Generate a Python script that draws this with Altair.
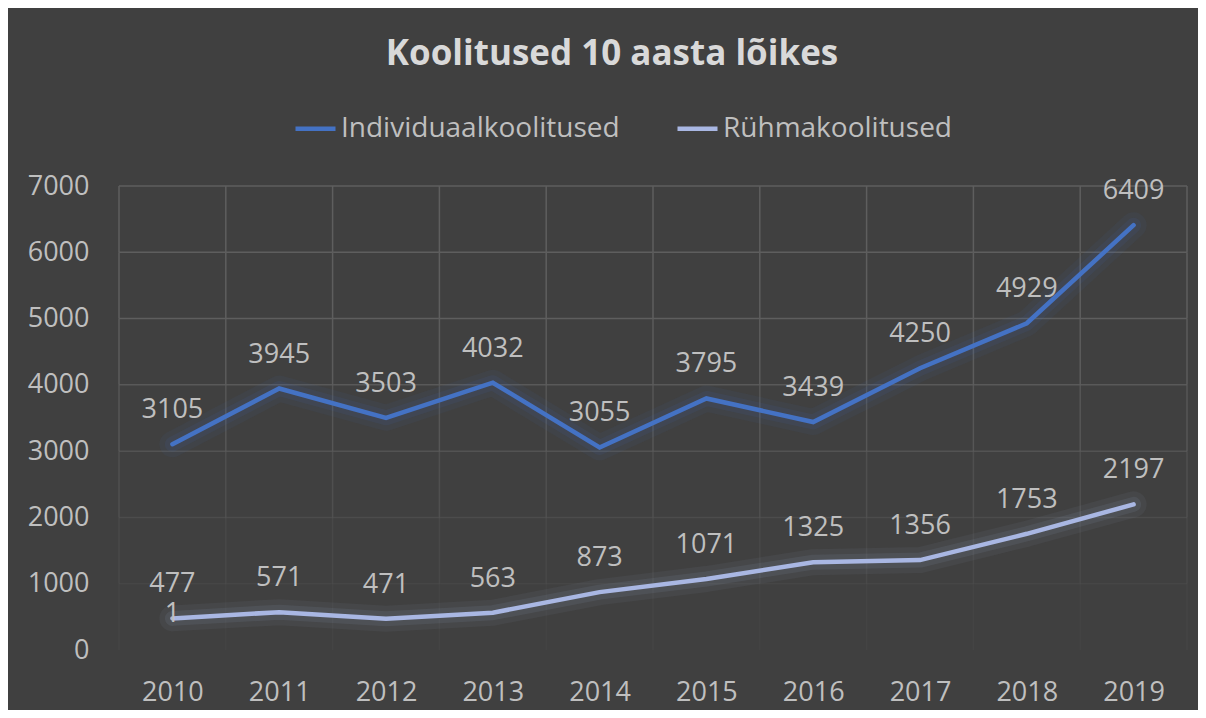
import altair as alt
import pandas as pd

FONT = "Open Sans"

years = [2010, 2011, 2012, 2013, 2014, 2015, 2016, 2017, 2018, 2019]
individuaal = [3105, 3945, 3503, 4032, 3055, 3795, 3439, 4250, 4929, 6409]
ryhma = [477, 571, 471, 563, 873, 1071, 1325, 1356, 1753, 2197]
series_names = ["Individuaalkoolitused", "Rühmakoolitused"]
series_colors = ["#4472c4", "#a9b7e3"]
y_ticks = [0, 1000, 2000, 3000, 4000, 5000, 6000, 7000]
grid_fade = [0.05, 0.2, 0.4, 0.65, 0.85, 1.0, 1.0, 1.0]
title_text = "Koolitused 10 aasta lõikes"

LABEL_COLOR = "#bfbfbf"
GRID_COLOR = "#5e5e5e"

rows = []
for yr, a, b in zip(years, individuaal, ryhma):
    rows.append({"year": yr, "series": series_names[0], "value": a})
    rows.append({"year": yr, "series": series_names[1], "value": b})
df = pd.DataFrame(rows)

x_lo, x_hi = years[0] - 0.5, years[-1] + 0.5

hgrid = pd.DataFrame({"v": y_ticks, "op": grid_fade, "x0": x_lo, "x1": x_hi})
vrows = []
bounds = [yr - 0.5 for yr in years] + [x_hi]
for bx in bounds:
    for k in range(len(y_ticks) - 1):
        vrows.append({"bx": bx, "y0": y_ticks[k], "y1": y_ticks[k + 1],
                      "op": (grid_fade[k] + grid_fade[k + 1]) / 2})
vgrid = pd.DataFrame(vrows)

xscale = alt.Scale(domain=[x_lo, x_hi], nice=False, zero=False)
yscale = alt.Scale(domain=[0, 7000], nice=False)

legend = alt.Legend(
    title=None, orient="none", direction="horizontal", columns=2,
    legendX=174, legendY=-80,
    symbolType="stroke", symbolSize=1600, symbolStrokeWidth=4.5, symbolOpacity=1,
    labelFont=FONT, labelFontSize=28, labelColor=LABEL_COLOR,
    labelOffset=3, columnPadding=48, labelLimit=400,
)
color = alt.Color("series:N", scale=alt.Scale(domain=series_names, range=series_colors), legend=legend)

x_enc = alt.X("year:Q", scale=xscale, axis=alt.Axis(
    values=years, format="d", title=None, grid=False, domain=False, ticks=False, tickSize=0,
    labelFont=FONT, labelFontSize=27, labelColor=LABEL_COLOR, labelPadding=29,
    labelBaseline="top"))
y_enc = alt.Y("value:Q", scale=yscale, axis=alt.Axis(
    values=y_ticks, format="d", title=None, grid=False, domain=False, ticks=False, tickSize=0,
    labelFont=FONT, labelFontSize=27, labelColor=LABEL_COLOR, labelPadding=30))

hg = alt.Chart(hgrid).mark_rule(color=GRID_COLOR, strokeWidth=1.5).encode(
    x=alt.X("x0:Q", scale=xscale), x2="x1:Q",
    y=alt.Y("v:Q", scale=yscale),
    opacity=alt.Opacity("op:Q", scale=None, legend=None),
)
vg = alt.Chart(vgrid).mark_rule(color=GRID_COLOR, strokeWidth=1.5).encode(
    x=alt.X("bx:Q", scale=xscale),
    y=alt.Y("y0:Q", scale=yscale), y2="y1:Q",
    opacity=alt.Opacity("op:Q", scale=None, legend=None),
)

base = alt.Chart(df)
glow1 = base.mark_line(strokeWidth=26, opacity=0.06, strokeCap="round", strokeJoin="round").encode(
    x=x_enc, y=y_enc, color=color)
glow2 = base.mark_line(strokeWidth=15, opacity=0.09, strokeCap="round", strokeJoin="round").encode(
    x=x_enc, y=y_enc, color=color)
line = base.mark_line(strokeWidth=4.5, strokeCap="round").encode(
    x=x_enc, y=y_enc, color=color)
labels = base.mark_text(font=FONT, fontSize=27, color=LABEL_COLOR, dy=-26, baseline="alphabetic").encode(
    x=alt.X("year:Q", scale=xscale), y=alt.Y("value:Q", scale=yscale),
    text=alt.Text("value:Q", format="d"))

extra = pd.DataFrame({"year": [years[0]], "value": [ryhma[0]], "t": ["1"]})
extra_label = alt.Chart(extra).mark_text(font=FONT, fontSize=27, color=LABEL_COLOR, dy=4, baseline="alphabetic").encode(
    x=alt.X("year:Q", scale=xscale), y=alt.Y("value:Q", scale=yscale), text="t:N")

chart = alt.layer(hg, vg, glow1, glow2, line, labels, extra_label).properties(
    width=1068, height=464,
    title=alt.TitleParams(title_text, font=FONT, fontSize=35, fontWeight="bold",
                          color="#d9d9d9", anchor="middle", frame="group",
                          dx=-41, offset=6, baseline="alphabetic"),
    autosize=alt.AutoSizeParams(type="none"),
    padding={"left": 111, "top": 178, "right": 11, "bottom": 60},
).configure(background="#404040").configure_view(stroke=None)

chart.save("out.html", embed_options={"renderer": "svg", "actions": False})
